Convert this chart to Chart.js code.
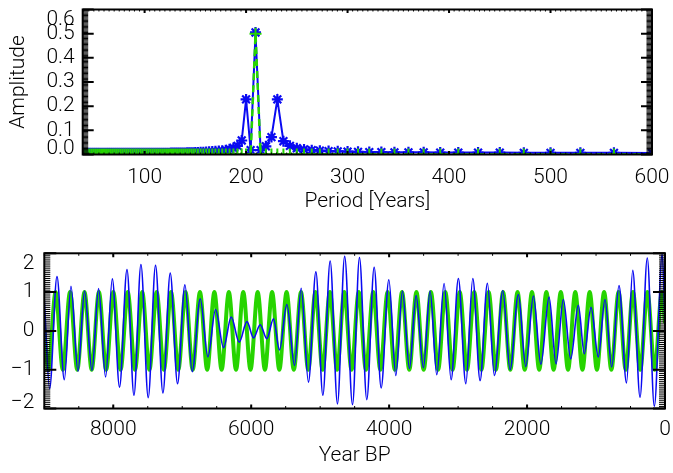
<!DOCTYPE html>
<html>
<head>
<meta charset="utf-8">
<title>Amplitude spectrum and reconstruction</title>
<script src="https://cdn.jsdelivr.net/npm/chart.js@4.4.1/dist/chart.umd.min.js"></script>
<style>
  html, body { margin: 0; padding: 0; background: #fff; }
  #wrap { position: relative; width: 673px; height: 473px; background: #fff; }
  canvas { position: absolute; left: 0; }
  #spectrum { top: 0; }
  #series { top: 235px; }
</style>
</head>
<body>
<div id="wrap">
  <canvas id="spectrum" width="673" height="235"></canvas>
  <canvas id="series" width="673" height="238"></canvas>
</div>
<script>
// ---- Top panel: amplitude spectrum ----
const periodYears = [
  600, 562.5, 529.4, 500, 473.7, 450, 428.6, 409.1, 391.3, 375, 360, 346.2, 333.3,
  321.4, 310.3, 300, 290.3, 281.3, 272.7, 264.7, 257.1, 250, 243.2, 236.8, 230.8,
  225, 219.5, 214.3, 209.3, 204.5, 200, 195.7, 191.5, 187.5, 183.7, 180, 176.5,
  173.1, 169.8, 166.7, 163.6, 160.7, 157.9, 155.2, 152.5, 150,
  148, 146, 144, 142, 140, 138, 136, 134, 132, 130, 128, 126, 124, 122, 120,
  118, 116, 114, 112, 110, 108, 106, 104, 102, 100, 98, 96, 94, 92, 90, 88, 86,
  84, 82, 80, 78, 76, 74, 72, 70, 68, 66, 64, 62, 60, 58, 56, 54, 52, 50, 48,
  46, 44, 42, 40
];
const signalAmplitude = [
  0.006, 0.007, 0.007, 0.007, 0.007, 0.008, 0.008, 0.008, 0.008, 0.009, 0.009, 0.009, 0.01,
  0.01, 0.011, 0.012, 0.013, 0.014, 0.016, 0.018, 0.021, 0.026, 0.036, 0.055, 0.228,
  0.072, 0.034, 0.018, 0.505, 0.018, 0.228, 0.058, 0.036, 0.027, 0.022, 0.018, 0.016,
  0.014, 0.013, 0.012, 0.011, 0.01, 0.009, 0.009, 0.008, 0.008,
  0.007, 0.007, 0.007, 0.007, 0.006, 0.006, 0.006, 0.006, 0.006, 0.006, 0.006, 0.006, 0.005, 0.005, 0.005,
  0.005, 0.005, 0.005, 0.005, 0.005, 0.005, 0.005, 0.005, 0.005, 0.005, 0.005, 0.005, 0.005, 0.005, 0.005, 0.005, 0.005,
  0.005, 0.005, 0.005, 0.005, 0.005, 0.005, 0.005, 0.005, 0.005, 0.005, 0.005, 0.005, 0.005, 0.005, 0.005, 0.005, 0.005, 0.005, 0.005,
  0.005, 0.005, 0.005, 0.005
];
const referenceAmplitude = [
  0, 0, 0, 0, 0, 0, 0, 0, 0, 0, 0, 0, 0,
  0, 0, 0, 0, 0, 0, 0, 0, 0, 0, 0, 0,
  0, 0, 0, 0.5, 0, 0, 0, 0, 0, 0, 0, 0,
  0, 0, 0, 0, 0, 0, 0, 0, 0,
  0, 0, 0, 0, 0, 0, 0, 0, 0, 0, 0, 0, 0, 0, 0,
  0, 0, 0, 0, 0, 0, 0, 0, 0, 0, 0, 0, 0, 0, 0, 0, 0,
  0, 0, 0, 0, 0, 0, 0, 0, 0, 0, 0, 0, 0, 0, 0, 0, 0, 0, 0,
  0, 0, 0, 0
];
const periodTicks = [100, 200, 300, 400, 500, 600];
const amplitudeTicks = [0, 0.1, 0.2, 0.3, 0.4, 0.5, 0.6];
const amplitudeTickLabels = ["0.0", "0.1", "0.2", "0.3", "0.4", "0.5", "0.6"];

// ---- Bottom panel: time series (extrema) ----
const signalYears = [
  9000, 8923, 8816, 8710, 8613, 8512, 8416, 8309, 8213, 8111, 8014, 7909, 7801, 7700,
  7599, 7493, 7387, 7280, 7174, 7068, 6961, 6855, 6739, 6628, 6517, 6401, 6290, 6174,
  6062, 5966, 5870, 5773, 5677, 5590, 5483, 5372, 5275, 5170, 5062, 4961, 4855, 4749,
  4645, 4531, 4430, 4324, 4217, 4116, 4004, 3903, 3807, 3705, 3609, 3503, 3406, 3309,
  3203, 3101, 2996, 2888, 2787, 2681, 2575, 2474, 2352, 2246, 2126, 2019, 1908, 1800,
  1681, 1580, 1474, 1367, 1257, 1170, 1073, 967, 870, 773, 667, 558, 468, 362, 257,
  155, 40, 0
];
const signalValues = [
  0.8, -1.49, 1.40, -1.26, 1.15, -1.04, 1.03, -1.02, 1.09, -1.19, 1.34, -1.45, 1.58, -1.66,
  1.71, -1.72, 1.69, -1.60, 1.49, -1.36, 1.19, -1.05, 0.83, -0.67, 0.55, -0.43, 0.36, -0.29,
  0.24, -0.18, 0.16, -0.20, 0.31, -0.49, 0.68, -0.89, 1.10, -1.32, 1.52, -1.66, 1.80, -1.88,
  1.92, -1.90, 1.89, -1.77, 1.64, -1.47, 1.32, -1.15, 1.03, -0.97, 0.91, -0.95, 1.03, -1.13,
  1.22, -1.26, 1.35, -1.36, 1.35, -1.28, 1.23, -1.15, 1.04, -1.00, 0.94, -0.92, 0.90, -0.86,
  0.87, -0.85, 0.81, -0.72, 0.66, -0.59, 0.61, -0.67, 0.81, -0.93, 1.17, -1.34, 1.56, -1.71, 1.88,
  -1.94, 1.99, 0.1
];
const referenceYears = [
  9000, 8941, 8836, 8731, 8627, 8522, 8417, 8313, 8208, 8103, 7999, 7894, 7790, 7685,
  7580, 7476, 7371, 7266, 7162, 7057, 6952, 6848, 6743, 6638, 6534, 6429, 6324, 6220,
  6115, 6010, 5906, 5801, 5697, 5592, 5487, 5382, 5278, 5173, 5069, 4964, 4859, 4755,
  4650, 4545, 4441, 4336, 4231, 4127, 4022, 3917, 3813, 3708, 3604, 3499, 3394, 3290,
  3185, 3080, 2976, 2871, 2766, 2662, 2557, 2452, 2348, 2243, 2138, 2034, 1929, 1824,
  1720, 1615, 1511, 1406, 1301, 1197, 1092, 987, 883, 778, 673, 569, 464, 359, 255,
  150, 45, 0
];
const referenceValues = [
  0.05, -1, 1, -1, 1, -1, 1, -1, 1, -1, 1, -1, 1, -1,
  1, -1, 1, -1, 1, -1, 1, -1, 1, -1, 1, -1, 1, -1,
  1, -1, 1, -1, 1, -1, 1, -1, 1, -1, 1, -1, 1, -1,
  1, -1, 1, -1, 1, -1, 1, -1, 1, -1, 1, -1, 1, -1,
  1, -1, 1, -1, 1, -1, 1, -1, 1, -1, 1, -1, 1, -1,
  1, -1, 1, -1, 1, -1, 1, -1, 1, -1, 1, -1, 1, -1, 1,
  -1, 1, 0.2
];
const yearTicks = [8000, 6000, 4000, 2000, 0];
const valueTicks = [-2, -1, 0, 1, 2];
const valueTickLabels = ["\u22122", "\u22121", "0", "1", "2"];

const BLUE = "#0a0af2";
const GREEN = "#27d400";
// thin strokes, closer to the vector font of the original
const FONT = "300 21px Roboto, 'Liberation Sans', sans-serif";

function toPoints(xs, ys) {
  return xs.map((x, i) => ({ x: x, y: ys[i] }));
}

// Steps through a range by a fixed step, used for the dense minor ticks
function stepValues(min, max, step) {
  const out = [];
  const start = Math.ceil(min / step - 1e-9);
  const end = Math.floor(max / step + 1e-9);
  for (let i = start; i <= end; i++) out.push(i * step);
  return out;
}

// Draws the closed box, inward ticks on all sides and the labels
function makeFrame(cfg) {
  return {
    id: "frame",
    afterDatasetsDraw(chart) {
      const { ctx, chartArea: a } = chart;
      const xs = chart.scales.x;
      const ys = chart.scales.y;
      ctx.save();
      ctx.strokeStyle = "#000";
      ctx.fillStyle = "#000";

      // y minor ticks
      ctx.lineWidth = 1;
      ctx.beginPath();
      stepValues(ys.min, ys.max, cfg.yMinorStep).forEach((v) => {
        const py = ys.getPixelForValue(v);
        ctx.moveTo(a.left, py); ctx.lineTo(a.left + cfg.yMinorLen, py);
        ctx.moveTo(a.right, py); ctx.lineTo(a.right - cfg.yMinorLen, py);
      });
      ctx.stroke();

      // x minor ticks
      ctx.beginPath();
      stepValues(xs.min, xs.max, cfg.xMinorStep).forEach((v) => {
        const px = xs.getPixelForValue(v);
        ctx.moveTo(px, a.bottom); ctx.lineTo(px, a.bottom - cfg.xMinorLen);
        ctx.moveTo(px, a.top); ctx.lineTo(px, a.top + cfg.xMinorLen);
      });
      ctx.stroke();

      // major ticks
      ctx.lineWidth = 2;
      ctx.beginPath();
      cfg.yTicks.forEach((v) => {
        const py = ys.getPixelForValue(v);
        ctx.moveTo(a.left, py); ctx.lineTo(a.left + cfg.yMajorLen, py);
        ctx.moveTo(a.right, py); ctx.lineTo(a.right - cfg.yMajorLen, py);
      });
      cfg.xTicks.forEach((v) => {
        const px = xs.getPixelForValue(v);
        ctx.moveTo(px, a.bottom); ctx.lineTo(px, a.bottom - cfg.xMajorLen);
        ctx.moveTo(px, a.top); ctx.lineTo(px, a.top + cfg.xMajorLen);
      });
      ctx.stroke();

      // box
      ctx.lineWidth = 2;
      ctx.strokeRect(a.left, a.top, a.right - a.left, a.bottom - a.top);

      // tick labels
      ctx.font = FONT;
      ctx.textAlign = "center";
      ctx.textBaseline = "middle";
      cfg.xTicks.forEach((v) => {
        ctx.fillText(String(v), xs.getPixelForValue(v), a.bottom + cfg.xLabelOffset);
      });
      ctx.textAlign = "right";
      cfg.yTicks.forEach((v, i) => {
        let py = ys.getPixelForValue(v);
        py = Math.min(Math.max(py, a.top + 10), a.bottom - 6);
        ctx.fillText(cfg.yLabels[i], a.left - cfg.yLabelGap, py);
      });

      // axis titles
      ctx.textAlign = "center";
      if (cfg.xTitle) {
        ctx.fillText(cfg.xTitle, (a.left + a.right) / 2, a.bottom + cfg.xTitleOffset);
      }
      if (cfg.yTitle) {
        ctx.translate(cfg.yTitleX, (a.top + a.bottom) / 2);
        ctx.rotate(-Math.PI / 2);
        ctx.fillText(cfg.yTitle, 0, 0);
      }
      ctx.restore();
    },
  };
}

const baseOptions = {
  responsive: false,
  animation: false,
  devicePixelRatio: 1,
  events: [],
  plugins: { legend: { display: false }, tooltip: { enabled: false } },
};

// Spectrum panel
new Chart(document.getElementById("spectrum"), {
  type: "line",
  data: {
    datasets: [
      {
        label: "Reference",
        data: toPoints(periodYears, referenceAmplitude),
        borderColor: GREEN,
        borderWidth: 2.5,
        borderDash: [7, 5],
        pointStyle: "cross",
        pointRadius: 6,
        pointBorderWidth: 2,
        pointBorderColor: GREEN,
        pointBackgroundColor: GREEN,
        tension: 0,
        clip: 0,
      },
      {
        label: "Signal",
        data: toPoints(periodYears, signalAmplitude),
        borderColor: BLUE,
        borderWidth: 2,
        pointStyle: "star",
        pointRadius: 5.5,
        pointBorderWidth: 2.2,
        pointBorderColor: BLUE,
        pointBackgroundColor: BLUE,
        tension: 0,
        clip: 0,
      },
    ],
  },
  options: Object.assign({}, baseOptions, {
    layout: { padding: { left: 82.7, right: 21, top: 9.5, bottom: 80.5 } },
    scales: {
      x: { type: "linear", display: false, min: 39, max: 600 },
      y: { type: "linear", display: false, min: 0, max: 0.6 },
    },
  }),
  plugins: [
    makeFrame({
      xTicks: periodTicks, xMinorStep: 5, xMajorLen: 3.5, xMinorLen: 2,
      yTicks: amplitudeTicks, yLabels: amplitudeTickLabels, yMinorStep: 0.005,
      yMajorLen: 11, yMinorLen: 5.5,
      xLabelOffset: 23, yLabelGap: 8,
      xTitle: "Period [Years]", xTitleOffset: 47,
      yTitle: "Amplitude", yTitleX: 18.5,
    }),
  ],
});

// Time series panel
new Chart(document.getElementById("series"), {
  type: "line",
  data: {
    datasets: [
      {
        label: "Signal",
        data: toPoints(signalYears, signalValues),
        borderColor: BLUE,
        borderWidth: 1.6,
        pointRadius: 0,
        cubicInterpolationMode: "monotone",
      },
      {
        label: "Reference",
        data: toPoints(referenceYears, referenceValues),
        borderColor: GREEN,
        borderWidth: 4,
        pointRadius: 0,
        cubicInterpolationMode: "monotone",
      },
    ],
  },
  options: Object.assign({}, baseOptions, {
    layout: { padding: { left: 44.3, right: 8, top: 18.3, bottom: 64.5 } },
    scales: {
      x: { type: "linear", display: false, reverse: true, min: 0, max: 9000 },
      y: { type: "linear", display: false, min: -2, max: 2 },
    },
  }),
  plugins: [
    makeFrame({
      xTicks: yearTicks, xMinorStep: 500, xMajorLen: 4, xMinorLen: 2.5,
      yTicks: valueTicks, yLabels: valueTickLabels, yMinorStep: 0.05,
      yMajorLen: 12, yMinorLen: 6,
      xLabelOffset: 21, yLabelGap: 10,
      xTitle: "Year BP", xTitleOffset: 47,
    }),
  ],
});
</script>
</body>
</html>
